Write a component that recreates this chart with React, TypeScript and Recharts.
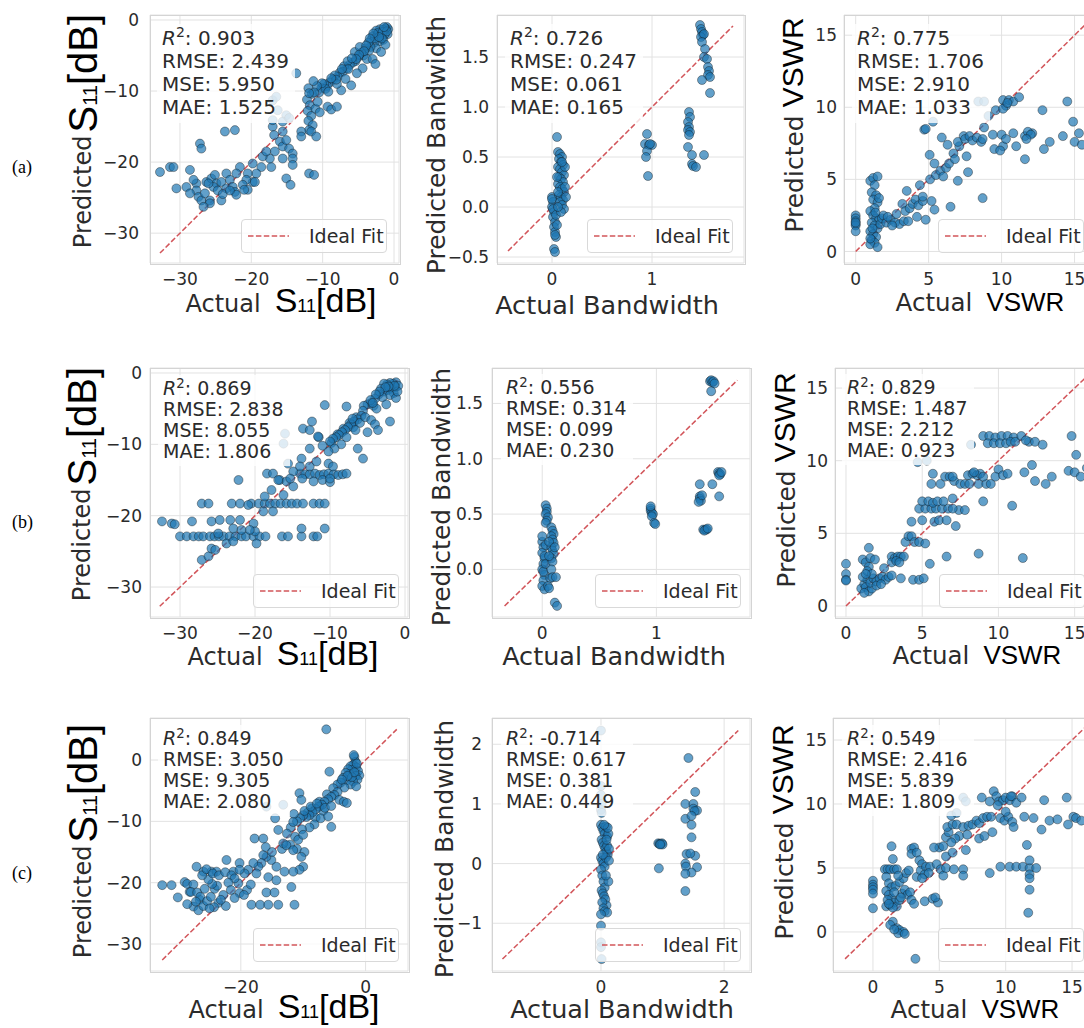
import React from 'react';
import { ScatterChart, Scatter, XAxis, YAxis, CartesianGrid, ReferenceLine } from 'recharts';

type Pt = [number, number];

// ---------- Row (a) ----------
const a1Points: Pt[] = [
  [-0.8,-1.3],[-0.9,-2.0],[-1.0,-1.0],[-1.2,-1.2],[-1.5,-1.4],[-2,-1.3],[-2.5,-1.5],[-1.3,-2],[-1.8,-2.2],[-2.3,-2],[-3,-2.3],[-1.5,-2.8],[-2,-3],[-2.8,-3.2],[-1.2,-3.5],[-2.5,-4],[-3.3,-3.8],[-1.8,-4.5],[-2.2,-1.8],[-1.6,-1.7],[-3.5,-4.3],[-4,-4],[-4.3,-5],[-3.8,-5.5],[-4.6,-4.6],[-5,-5.2],[-5.4,-5.8],[-5.8,-6],[-6.2,-6.3],[-6.6,-6.8],[-7,-6.5],[-7.2,-7.3],[-7.6,-7.4],[-7.9,-8],[-8.3,-7.8],[-8.6,-8.4],[-9,-8.8],[-9.4,-9.3],[-9.8,-9],[-10.2,-9.6],[-10.5,-10.2],[-3,-5.5],[-2.6,-6.2],[-4.4,-6.8],[-5.2,-7.5],[-6,-9.2],[-6.8,-8.3],[-7.4,-9.9],[-8,-9],[-5.5,-4.5],[-6.5,-5.8],[-3.2,-2.8],[-4.8,-3.8],[-1.0,-1.6],[-2.7,-2.6],[-1.4,-1.0],[-3.6,-3.2],
  [-1.7,-2.6],[-2.1,-2.4],[-2.9,-1.9],[-3.4,-2.6],[-3.9,-3.6],[-4.2,-4.4],[-4.9,-4.9],[-5.3,-5.5],[-5.9,-5.4],[-6.4,-6.9],[-7.3,-6.9],[-8.1,-8.4],[-8.8,-8.2],[-9.6,-9.7],[-10.1,-8.9],[-9.2,-10.1],[-10.8,-9.3],[-11.3,-8.6],
  [-12,-9.6],[-11.5,-10.4],[-12.2,-11.2],[-11.8,-12],[-12.1,-12.8],[-11.6,-13.5],[-12,-14.2],[-11.4,-14.8],[-11.9,-15.5],[-11,-12.5],[-10.7,-11.5],[-11.2,-10.2],[-10.4,-13],[-9.3,-12.2],[-8.8,-12.6],[-8,-12.2],[-11.9,-10.3],[-11.6,-15.7],[-10.9,-16.4],[-13,-15.7],[-13,-16.4],[-11.9,-21.6],[-11.2,-21.8],
  [-17,-15],[-16.8,-16.2],[-16,-17.1],[-15.6,-17.8],[-15.1,-16.9],[-14.7,-18.1],[-14.2,-18.8],[-14.2,-19.5],[-15.6,-19.5],[-16.7,-18.5],[-14.2,-20.4],[-15.1,-22.3],[-14.5,-23.2],[-17.2,-20.7],[-17.4,-19.5],[-18.4,-19.2],[-17.9,-18.5],[-18.6,-20.7],[-19.8,-20.2],[-19.3,-21.6],[-20.5,-21.6],[-19.8,-22.8],[-20.7,-22.5],[-21.2,-23.2],[-20.5,-23.9],[-23.7,-15.7],[-27.2,-17.4],[-27,-18.1],[-15.6,-15.7],[-17,-14.1],[-22.3,-15.5],
  [-32.8,-21.4],[-31.4,-20.7],[-30.9,-20.7],[-30.5,-23.7],[-28.6,-21.1],[-29.1,-23.5],[-27.7,-23],[-27.7,-24],[-27.4,-24.9],[-27,-25.4],[-26.5,-24.4],[-26.3,-22.8],[-25.6,-22.3],[-25.1,-21.8],[-24.9,-23],[-25.3,-23.5],[-24.7,-24],[-25.8,-25.4],[-25.8,-25.8],[-24.2,-22.8],[-23.5,-21.6],[-23,-22.5],[-23.5,-23.7],[-22.6,-23.5],[-22.3,-24.2],[-21.6,-20.7],[-22.1,-21.6],[-21,-23.9],[-19.5,-22.8],[-22.1,-24.6],[-24.2,-25.4],[-26.7,-26.3],[-28.6,-24.4],[-28.1,-22.5],[-26,-23],[-24,-24.5],[-23,-24],
  [-13.7,-7.5],[-17,-11.3],[-16.3,-12.7],[-15.1,-13.4],[-15.6,-14.3],[-14.7,-13.8],[-16.5,-10.8],
];
const a2Points: Pt[] = [
  [0.0,0.1],[0.01,0.05],[0.0,0.0],[0.02,-0.05],[0.01,-0.1],[0.03,-0.15],[0.02,-0.2],[0.03,-0.25],[0.04,-0.3],[0.03,-0.28],[0.02,-0.42],[0.03,-0.45],[0.0,0.08],[0.01,-0.02],[0.04,-0.08],[0.05,-0.18],
  [0.05,0.7],[0.06,0.55],[0.08,0.53],[0.1,0.5],[0.07,0.48],[0.09,0.45],[0.11,0.42],[0.06,0.4],[0.08,0.38],[0.1,0.35],[0.12,0.32],[0.07,0.3],[0.09,0.28],[0.11,0.25],[0.06,0.23],[0.08,0.2],[0.1,0.18],[0.12,0.15],[0.07,0.12],[0.09,0.1],[0.11,0.07],[0.08,0.05],[0.1,0.02],[0.12,-0.02],[0.09,-0.05],[0.06,0.15],[0.13,0.2],[0.05,0.3],[0.13,0.4],[0.1,0.45],[0.14,0.1],[0.06,0.0],
  [0.95,0.73],[0.93,0.63],[0.97,0.62],[1.0,0.62],[0.95,0.56],[0.94,0.5],[0.96,0.31],[0.98,0.63],
  [1.37,0.95],[1.38,0.9],[1.36,0.85],[1.37,0.8],[1.36,0.77],[1.38,0.75],[1.37,0.72],[1.36,0.6],[1.4,0.52],[1.4,0.43],[1.41,0.41],[1.44,0.4],[1.52,0.52],
  [1.48,1.82],[1.49,1.78],[1.5,1.75],[1.51,1.72],[1.49,1.7],[1.52,1.73],[1.5,1.65],[1.53,1.58],[1.52,1.5],[1.55,1.48],[1.56,1.4],[1.57,1.36],[1.56,1.32],[1.58,1.3],[1.5,1.27],[1.58,1.14],
];
const a3Points: Pt[] = [
  [0,2.5],[0,2.3],[0,2.1],[0,1.9],[0,1.8],[0,1.4],[0,2.0],
  [1,4.9],[1.2,5.1],[1.5,5.2],[1.3,4.6],[1.1,4.1],[1.4,3.9],[1.2,3.6],[1.5,3.4],[1.3,3.0],[1.0,2.8],[1.2,2.5],[1.4,2.3],[1.6,2.2],[1.1,2.0],[1.3,1.8],[1.5,1.6],[1.0,1.4],[1.2,1.2],[1.4,1.0],[1.1,0.8],[1.3,0.6],[1.0,0.5],[1.5,0.3],[1.7,1.9],[1.8,2.3],[1.9,2.5],[1.6,3.7],[1.0,0.9],[1.15,1.6],[1.35,2.7],
  [2.1,2.0],[2.4,2.2],[2.7,2.0],[3.0,1.9],[3.3,2.1],[2.2,2.4],[2.5,1.8],[3.6,2.1],[2.8,2.6],[3.2,3.3],[3.4,2.8],[3.7,3.0],[3.9,3.3],[3.5,4.2],[4.1,3.6],[4.3,3.2],[4.6,3.5],[4.2,2.4],[4.8,2.2],[5.2,3.5],[4.4,4.6],[4.6,3.8],
  [5.1,5.0],[5.5,5.3],[5.8,5.6],[6.0,5.2],[6.2,5.8],[5.07,6.7],[5.4,6.1],[6.4,6.1],[6.7,6.8],[5.9,7.9],[7.1,7.3],[7.4,8.0],[7.6,6.6],[7.0,4.9],[7.7,5.5],[5.4,2.9],[6.5,3.1],[8.7,3.7],[4.7,8.45],[4.8,8.5],[7.0,7.6],[7.5,7.8],[7.8,8.0],[8.0,7.7],[8.3,7.9],[8.6,7.6],[6.3,7.4],[6.8,6.4],
  [9.6,9.8],[10.1,10.5],[10.3,10.1],[10.5,10.5],[10.1,9.9],[10.8,10.4],[11.2,10.7],[10.4,10.3],
  [8.8,8.6],[8.7,7.8],[9.4,8.1],[9.5,7.1],[10.0,8.1],[10.1,7.3],[10.8,8.2],[11.0,7.3],[11.6,8.0],[11.6,6.4],[12.1,8.2],[11.8,8.3],[12.0,8.1],[11.7,7.8],[12.9,7.1],[13.3,7.6],[12.8,9.8],[14.2,8.0],[14.5,10.4],[14.9,9.0],[15.0,7.6],[15.3,8.2],[15.5,7.4],[10.3,7.8],[9.9,7.0],
  [5.3,9.0],[8.4,10.4],[8.8,10.4],[9.1,9.4],
];

// ---------- Row (b) ----------
const b1Points: Pt[] = [
  [-1.2,-1.3],[-1.6,-1.5],[-2,-1.4],[-2.4,-1.6],[-2.8,-1.5],[-1.3,-2.0],[-1.8,-2.2],[-2.3,-2.4],[-2.8,-2.6],[-3.2,-2.2],[-1.5,-2.8],[-2.0,-3.1],[-3.5,-3.0],[-3.0,-3.4],[-4.0,-3.6],[-4.5,-4.2],[-5.0,-4.4],[-4.2,-4.6],[-1.2,-3.5],[-2.5,-4.4],[-3.8,-5.0],[-5.5,-4.6],[-0.9,-1.8],[-1.0,-2.6],
  [-1.4,-1.8],[-2.2,-1.9],[-2.6,-2.0],[-3.4,-2.6],[-3.9,-3.0],[-4.6,-3.8],[-6.5,-6.2],[-7.4,-7.0],[-8.2,-7.8],[-9.0,-8.6],[-9.8,-9.8],[-6.9,-7.6],[-5.6,-5.3],
  [-5.8,-6.0],[-6.3,-6.5],[-6.8,-6.8],[-7.2,-7.2],[-7.6,-7.6],[-8,-8.0],[-8.4,-8.3],[-8.8,-8.7],[-9.2,-9.0],[-9.6,-9.2],[-10.0,-9.6],[-7.0,-6.4],[-6.0,-7.0],[-5.3,-6.2],[-4.5,-6.6],[-4.0,-7.2],[-3.6,-8.0],[-5.0,-8.3],[-6.6,-8.0],[-7.8,-9.0],[-8.5,-10.0],[-9.4,-10.6],[-10.2,-11.0],[-11.0,-10.2],[-11.5,-9.0],[-6.3,-10.6],[-4.3,-4.2],[-2.0,-6.8],[-10.7,-4.5],[-5.6,-12.0],[-12.7,-10.6],[-13.6,-7.8],[-12.7,-8.0],[-12.4,-6.8],[-11.6,-8.9],[-7.8,-4.7],
  [-14,-14.1],[-13.3,-14.2],[-12.7,-14.2],[-12,-14.1],[-11.4,-14.3],[-10.8,-14.2],[-10.2,-14.1],[-9.5,-14.2],[-8.9,-14.3],[-8.3,-14.2],[-7.8,-14.1],[-13.7,-14.8],[-12.2,-15.2],[-11.0,-15.0],[-10.0,-15.3],[-13.8,-12],[-12.7,-13.1],[-11.8,-12.4],[-10.2,-12.7],[-9.6,-13.1],[-10,-14.8],
  [-18.4,-14.1],[-17.6,-14.1],[-16.7,-15],[-15.8,-15.2],[-14.9,-13.8],[-14,-13.1],[-14.9,-15.9],[-15.3,-14.8],[-16.9,-15],
  [-27.1,-18.3],[-26.2,-18.3],[-23.1,-18.3],[-22.0,-18.3],[-20.5,-18.3],[-19.5,-18.3],[-18.7,-18.3],[-18.0,-18.3],[-17.3,-18.3],[-16.6,-18.3],[-15.8,-18.3],[-15.1,-18.3],[-14.4,-18.3],[-13.6,-18.3],[-12.2,-18.3],[-11.4,-18.3],[-10.7,-18.3],[-18.7,-17.3],[-18.9,-19.4],[-17.6,-19.4],[-16.2,-17.1],[-17.8,-16.4],[-22.2,-15.0],
  [-30,-22.9],[-29.1,-22.9],[-28.2,-22.9],[-27.5,-22.9],[-26.9,-22.9],[-26,-22.9],[-25.4,-22.9],[-24.8,-22.9],[-24.2,-22.9],[-23.4,-22.9],[-22.6,-22.9],[-21.8,-22.9],[-21.2,-22.9],[-20.2,-22.9],[-19.4,-22.9],[-18.6,-22.9],[-16.4,-22.9],[-15.6,-22.9],[-13.8,-22.9],[-12.2,-22.9],[-11.7,-22.9],
  [-32.4,-20.8],[-31.1,-21.1],[-30.7,-21.2],[-28.4,-20.8],[-25.8,-20.8],[-24.7,-20.6],[-23.3,-20.6],[-22.9,-21.8],[-22,-20.6],[-20.9,-18.5],[-20.2,-21.1],[-20,-22.2],[-20.7,-22.0],[-19.8,-23.9],[-27.1,-26.2],[-26.2,-25.7],[-25.8,-24.6],[-25.3,-24.8],[-24.9,-22.5],[-23.8,-23.9],[-22.9,-23.6],[-21.8,-22.0],[-13.8,-21.8],[-10.7,-21.8],
  [-16,-8.5],[-16.2,-9.9],[-15.6,-12.7],
];
const b2Points: Pt[] = [
  [0.0,0.25],[0.01,0.2],[0.0,0.15],[0.02,0.1],[0.01,0.05],[0.0,0.0],[0.02,-0.05],[0.01,-0.1],[0.0,-0.15],[0.02,-0.18],[0.03,0.22],[0.0,0.3],[0.02,0.12],[0.01,-0.02],[0.03,0.05],
  [0.03,0.58],[0.04,0.55],[0.04,0.52],[0.03,0.5],[0.05,0.47],[0.04,0.44],[0.03,0.42],
  [0.08,0.38],[0.09,0.35],[0.1,0.32],[0.08,0.3],[0.09,0.27],[0.1,0.24],[0.08,0.2],[0.09,0.17],[0.1,0.14],[0.08,0.1],[0.09,0.07],[0.08,0.0],[0.07,-0.08],[0.09,-0.07],[0.05,-0.15],[0.06,-0.17],[0.12,-0.07],[0.11,-0.3],[0.13,-0.33],[0.06,0.25],[0.06,0.12],[0.11,0.2],
  [0.95,0.55],[0.95,0.53],[0.96,0.51],[0.97,0.5],[0.96,0.48],[0.98,0.42],[0.99,0.41],[0.95,0.57],
  [1.38,0.77],[1.38,0.66],[1.38,0.64],[1.39,0.62],[1.37,0.61],[1.40,0.67],[1.49,0.77],[1.55,0.66],
  [1.41,0.36],[1.43,0.36],[1.44,0.36],[1.42,0.35],[1.45,0.37],
  [1.54,0.88],[1.55,0.87],[1.56,0.86],[1.55,0.85],[1.57,0.88],
  [1.47,1.7],[1.48,1.71],[1.49,1.69],[1.5,1.7],[1.51,1.68],[1.48,1.61],
];
const b3Points: Pt[] = [
  [0,2.9],[0,2.2],[0,1.8],[0,1.75],
  [1.0,1.2],[1.2,1.5],[1.4,1.8],[1.1,2.0],[1.3,1.3],[1.5,1.0],[1.7,1.2],[1.2,0.9],[1.6,1.6],[1.8,1.9],[2.0,1.7],[2.2,1.9],[2.4,2.0],[2.6,1.8],[2.8,2.0],[3.0,2.1],[1.1,3.2],[1.3,3.0],[1.5,2.7],[1.6,3.3],[1.9,3.2],[1.4,2.4],[1.5,4.0],[2.0,1.4],[2.3,1.5],[1.7,2.2],[1.3,2.2],[2.5,2.6],
  [3.0,3.4],[3.2,3.3],[3.4,3.4],[3.6,3.4],[3.8,3.4],[3.0,3.0],[3.3,3.1],[3.5,3.0],[3.9,4.4],[4.1,4.8],[4.3,4.8],[4.5,4.4],[4.8,4.4],[3.6,1.9],[4.4,1.8],[4.8,1.8],[5.1,1.9],[5.2,4.3],[4.3,5.8],
  [4.8,6.7],[5.2,6.7],[5.6,6.7],[5.9,6.7],[6.3,6.7],[6.7,6.7],[5.0,7.2],[5.4,7.2],[5.7,7.1],[6.0,7.2],[6.4,7.2],[5.8,5.8],[6.1,5.9],[6.6,5.9],[7.2,5.5],[7.4,6.6],[7.8,6.6],[7.0,6.7],[5.0,5.9],[5.6,8.4],[6.2,8.4],[7.0,7.4],
  [5.7,9.1],[6.5,8.9],[6.8,8.9],[7.1,8.6],[7.5,8.4],[7.8,8.4],[8.0,9.0],[8.3,9.1],[8.6,9.0],[8.8,9.1],[8.1,8.4],[8.7,8.4],[9.2,8.4],[9.5,8.4],[8.4,9.2],[9.0,8.9],[9.0,7.2],[7.0,8.9],
  [9.0,11.7],[9.4,11.7],[9.8,11.6],[10.2,11.7],[10.6,11.7],[11.0,11.6],[11.5,11.7],[12.0,11.3],[12.4,11.3],[9.3,11.2],[9.7,11.2],[10.1,11.2],[10.5,11.2],[10.8,11.3],[11.8,11.4],[12.9,11.1],[11.1,11.3],
  [10.0,9.4],[9.8,8.9],[10.3,9.0],[10.6,9.1],[10.9,6.9],[11.7,9.2],[12.2,9.7],[12.4,8.6],[13.1,8.4],[13.5,8.9],[14.6,9.3],[15.0,9.2],[15.4,8.9],[15.8,9.5],[14.8,11.7],[15.1,10.4],
  [5.5,2.9],[6.6,3.4],[8.7,3.6],[11.6,3.3],
  [4.7,9.9],[8.2,11.1],[5.3,10.0],
];

// ---------- Row (c) ----------
const c1Points: Pt[] = [
  [-6.3,5.0],
  [-1.8,0.5],[-1.6,-0.3],[-2.0,-0.8],[-1.5,-1.2],[-2.4,-1.0],[-1.2,-1.8],[-2.2,-1.6],[-2.8,-1.5],[-1.0,-2.5],[-1.6,-2.6],[-2.6,-2.3],[-3.2,-2.1],[-1.3,-3.2],[-2.0,-3.5],[-3.0,-3.3],[-3.6,-2.9],[-4.0,-3.7],[-2.4,-4.0],[-1.5,-4.3],[-3.4,-4.5],[-4.5,-4.0],[-5.8,-1.9],[-1.9,0.8],
  [-1.4,-0.6],[-2.2,-2.8],[-1.8,-2.0],[-2.9,-2.6],[-3.8,-3.2],[-5.2,-4.6],[-6.2,-5.6],[-7.4,-6.8],[-8.6,-7.9],[-9.3,-8.6],[-6.8,-8.3],[-8.0,-9.4],
  [-4.5,-5.2],[-5.0,-5.7],[-5.5,-6.0],[-6.0,-6.4],[-6.6,-6.8],[-7.0,-7.3],[-7.5,-7.6],[-8.0,-8.0],[-8.5,-8.5],[-9.0,-9.0],[-9.5,-9.3],[-10.0,-9.0],[-10.5,-9.5],[-9.8,-8.3],[-8.8,-7.6],[-7.8,-7.1],[-6.5,-7.8],[-5.5,-7.5],[-4.2,-6.5],[-3.5,-6.8],[-3.0,-7.0],[-7.2,-9.5],[-8.2,-10.5],[-9.0,-11.0],[-10.2,-11.3],[-6.0,-9.2],[-5.5,-10.9],[-11.0,-10.0],[-11.5,-8.8],[-10.6,-5.4],[-10.3,-6.5],
  [-12.0,-11.0],[-12.6,-12.0],[-11.3,-12.5],[-10.8,-13.0],[-12.1,-13.8],[-11.0,-14.5],[-10.0,-12.2],[-13.4,-14.5],[-9.8,-15.0],[-14,-11.4],[-11.6,-10.1],
  [-17.8,-12.8],[-16.4,-12.8],[-13.2,-13.6],[-12.7,-13.9],[-11.6,-14.7],[-10.3,-15.8],[-10.0,-17.4],[-10.6,-17.9],[-11.6,-18.2],[-13,-18.2],[-14.3,-17.4],[-15.1,-16.3],[-15.9,-15.8],[-16.4,-15.5],[-16.7,-16.8],[-17.2,-17.4],[-17.5,-18.5],[-18,-16.8],[-18.8,-17.9],[-20.2,-16.8],[-19.4,-18.5],[-15.6,-19.1],[-14.3,-19.6],[-16.0,-14.2],[-15.0,-15.0],
  [-32.6,-20.4],[-31.1,-20.4],[-30.1,-22.4],[-29,-19.9],[-28.2,-21.5],[-27.1,-17.4],[-27.6,-23.9],[-26.6,-22.8],[-26,-18.2],[-24.7,-18.2],[-23.9,-18.2],[-22.3,-16.3],[-21.2,-18.2],[-20.2,-17.9],[-20.4,-20.1],[-20.2,-21.7],[-18.3,-23.6],[-16.9,-23.6],[-15.6,-23.6],[-14,-23.6],[-11.4,-23.6],[-15.9,-21.6],[-14.6,-21.6],[-11.9,-20.7],
  [-28.6,-20.2],[-27.6,-20.3],[-28.0,-21.5],[-27.0,-21.6],[-26.5,-22.3],[-27.2,-23.1],[-26.8,-24.5],[-26.0,-23.8],[-25.4,-23.0],[-24.8,-22.3],[-24.2,-21.0],[-23.8,-20.5],[-24.6,-20.2],[-25.2,-19.5],[-26.2,-18.8],[-25.5,-17.8],[-24.5,-18.5],[-23.5,-18.8],[-22.5,-18.3],[-21.5,-18.8],[-21.0,-19.3],[-22.0,-20.0],[-21.6,-21.2],[-22.8,-22.0],[-23.6,-23.3],[-24.3,-24.0],[-22.4,-23.8],[-21.0,-22.5],[-19.0,-21.2],[-18.4,-20.3],[-23.2,-22.8],[-25.8,-21.0],[-28.6,-23.5],[-19.5,-22.0],[-25.0,-24.2],
  [-15.9,-7.6],[-13.2,-7.3],[-14.5,-9.5],
];
const c2Points: Pt[] = [
  [0.0,2.23],[0.0,1.3],[0.0,1.15],[0.01,1.0],[0.0,0.9],[0.01,0.85],[0.0,-1.32],[0.0,-1.4],[0.01,-1.6],[0.0,-1.04],
  [0.0,0.65],[0.02,0.6],[0.04,0.55],[0.06,0.5],[0.08,0.62],[0.1,0.45],[0.01,0.4],[0.03,0.35],[0.05,0.3],[0.07,0.25],[0.09,0.2],[0.11,0.15],[0.0,0.1],[0.02,0.05],[0.04,0.0],[0.06,-0.05],[0.08,0.1],[0.1,0.3],[0.12,0.5],[0.13,0.25],[0.0,-0.1],[0.02,-0.2],[0.04,-0.3],[0.06,-0.4],[0.01,-0.45],[0.03,-0.5],[0.05,-0.55],[0.07,-0.6],[0.09,-0.7],[0.02,-0.65],[0.04,-0.75],[0.06,-0.8],[0.1,-0.82],[0.0,-0.85],[0.12,-0.3],[0.08,-0.2],[0.13,0.05],[0.11,0.6],[0.05,0.65],[0.09,0.4],[0.03,0.15],
  [0.93,0.34],[0.95,0.33],[0.97,0.33],[0.99,0.34],[1.0,0.32],[0.96,0.32],[0.94,-0.08],
  [1.42,1.77],[1.37,1.0],[1.5,1.0],[1.5,0.92],[1.56,0.89],[1.52,0.88],[1.37,0.75],[1.47,0.65],[1.47,0.44],[1.53,1.2],[1.39,0.16],[1.53,0.13],[1.45,0.17],[1.37,0.0],[1.38,-0.05],[1.56,-0.06],[1.47,-0.15],[1.37,-0.17],[1.37,-0.46],[1.47,0.8],
];
const c3Points: Pt[] = [
  [0,4.0],[0,3.7],[0,3.5],[0,3.3],[0,3.0],[0,1.85],
  [0.9,4.9],[1.1,4.9],[1.3,4.9],[1.6,4.9],[1.8,4.9],[1.0,4.3],[1.2,3.8],[1.4,3.5],[1.0,3.2],[1.2,2.9],[1.4,2.6],[1.6,2.3],[1.0,2.0],[1.3,2.1],[1.8,2.0],[2.0,2.5],[2.2,3.0],[2.4,3.3],[2.6,2.9],[2.8,3.1],[1.7,3.6],[2.0,3.9],[2.3,4.2],[2.5,4.6],[2.7,4.8],[1.5,5.7],[1.4,6.7],[1.9,4.4],[2.9,2.5],[3.1,2.2],[3.3,4.3],[1.1,2.5],[1.5,1.9],[1.2,2.2],[2.1,2.7],[1.6,3.1],
  [1.5,0.8],[1.3,0.55],[1.8,0.3],[2.0,0.15],[2.3,0.0],[1.9,-0.1],[1.6,0.2],[2.4,-0.15],[3.2,-2.1],
  [2.9,6.5],[3.1,6.6],[2.9,6.1],[3.3,6.2],[3.5,5.6],[3.7,5.3],[3.6,4.8],[4.0,5.1],[4.3,5.1],[3.9,4.5],[4.2,4.6],[4.8,5.3],[5.0,6.6],[4.6,6.6],[3.7,4.2],[3.9,2.4],[4.5,2.6],[4.9,2.3],[4.7,2.7],[5.1,4.9],[5.3,4.4],[5.5,5.0],[6.1,4.9],[6.8,4.9],[6.8,4.4],[5.5,5.9],[6.0,6.2],[5.3,6.7],
  [5.5,7.4],[5.7,7.8],[5.6,8.2],[6.0,8.4],[6.3,8.4],[6.5,7.5],[6.8,8.2],[7.2,8.3],[7.5,8.4],[7.8,8.7],[8.0,8.5],[8.3,8.9],[8.6,9.0],[8.9,9.0],[7.1,7.6],[7.0,6.4],[8.0,7.3],[8.4,7.5],[9.0,7.8],[6.2,7.3],[5.9,7.0],
  [8.2,10.5],[8.8,10.2],[9.1,11.0],[9.3,10.6],[9.5,10.2],[9.8,10.3],[10.0,10.5],[10.3,10.3],[10.5,10.6],[10.8,10.1],[11.2,10.5],[9.4,9.9],[10.4,10.6],
  [9.6,8.9],[9.9,8.7],[10.2,9.0],[10.5,8.6],[10.6,8.2],[11.4,9.0],[12.1,8.9],[12.7,8.0],[12.9,10.3],[13.3,8.7],[13.9,8.8],[14.6,10.5],[14.7,8.4],[15.1,9.0],[15.3,8.9],[15.7,8.7],[11.6,6.8],[10.0,9.4],
  [8.8,4.6],[9.6,5.1],[10.3,5.1],[10.8,5.1],[11.3,5.1],[11.8,5.0],[12.3,5.0],[11.8,5.6],[11.8,4.5],[11.8,4.2],[11.8,3.3],[11.7,1.5],
  [6.8,10.5],[5.9,9.1],[6.3,9.3],[7.0,10.2],
];

// ---------- ticks, stats, labels ----------
const s11XTicksAB = [-30, -20, -10, 0];
const s11XTicksC = [-20, 0];
const s11YTicks = [-30, -20, -10, 0];
const bwXTicksAB = [0, 1];
const bwYTicksA = [-0.5, 0, 0.5, 1, 1.5];
const bwYTicksB = [0, 0.5, 1, 1.5];
const bwTicksC = [-1, 0, 1, 2];
const bwXTicksC = [0, 2];
const vswrTicks = [0, 5, 10, 15];

const statNames = ['RMSE', 'MSE', 'MAE'];
const a1Stats = ['0.903', '2.439', '5.950', '1.525'];
const a2Stats = ['0.726', '0.247', '0.061', '0.165'];
const a3Stats = ['0.775', '1.706', '2.910', '1.033'];
const b1Stats = ['0.869', '2.838', '8.055', '1.806'];
const b2Stats = ['0.556', '0.314', '0.099', '0.230'];
const b3Stats = ['0.829', '1.487', '2.212', '0.923'];
const c1Stats = ['0.849', '3.050', '9.305', '2.080'];
const c2Stats = ['-0.714', '0.617', '0.381', '0.449'];
const c3Stats = ['0.549', '2.416', '5.839', '1.809'];

const rowLabels = ['(a)', '(b)', '(c)'];
const legendLabel = 'Ideal Fit';

type Kind = 's11' | 'bw' | 'vswr';

interface PanelCfg {
  left: number; top: number; w: number; h: number;
  xd: [number, number]; yd: [number, number];
  xt: number[]; yt: number[]; yDec: number;
  pts: Pt[]; line: [number, number]; stats: string[];
  font: number; lh: number; tx: number; tb: number;
  kind: Kind; yl: [number, number]; xl: [number, number];
  yGap: number; lgRight: number; lgBottom: number;
}

const panels: PanelCfg[] = [
  { left: 150, top: 15, w: 249, h: 248, xd: [-34.2, 0.7], yd: [-34.2, 0.7], xt: s11XTicksAB, yt: s11YTicks, yDec: 0, pts: a1Points, line: [-32.8, -1.1], stats: a1Stats, font: 20, lh: 23, tx: 12, tb: 30, kind: 's11', yl: [91, 131], xl: [281, 312], yGap: 11, lgRight: 12, lgBottom: 10 },
  { left: 497, top: 15, w: 247, h: 248, xd: [-0.55, 1.92], yd: [-0.56, 1.92], xt: bwXTicksAB, yt: bwYTicksA, yDec: 1, pts: a2Points, line: [-0.44, 1.81], stats: a2Stats, font: 20, lh: 23, tx: 13, tb: 30, kind: 'bw', yl: [445, 145], xl: [607, 314], yGap: 8, lgRight: 11, lgBottom: 10 },
  { left: 844, top: 15, w: 251, h: 248, xd: [-0.8, 16.4], yd: [-0.8, 16.4], xt: vswrTicks, yt: vswrTicks, yDec: 0, pts: a3Points, line: [0, 16.3], stats: a3Stats, font: 20, lh: 23, tx: 13, tb: 30, kind: 'vswr', yl: [803, 125], xl: [980, 311], yGap: 7, lgRight: 11, lgBottom: 10 },
  { left: 150, top: 368, w: 258, h: 249, xd: [-34, 0.4], yd: [-34.2, 0.7], xt: s11XTicksAB, yt: s11YTicks, yDec: 0, pts: b1Points, line: [-32.7, -1.0], stats: b1Stats, font: 19, lh: 21, tx: 13, tb: 27, kind: 's11', yl: [90, 484], xl: [283, 665], yGap: 8, lgRight: 9, lgBottom: 9 },
  { left: 492, top: 368, w: 258, h: 249, xd: [-0.44, 1.82], yd: [-0.43, 1.82], xt: bwXTicksAB, yt: bwYTicksB, yDec: 1, pts: b2Points, line: [-0.33, 1.71], stats: b2Stats, font: 19, lh: 21, tx: 14, tb: 26, kind: 'bw', yl: [450, 497], xl: [614, 665], yGap: 9, lgRight: 9, lgBottom: 9 },
  { left: 835, top: 368, w: 261, h: 249, xd: [-0.72, 16.4], yd: [-0.76, 16.38], xt: vswrTicks, yt: vswrTicks, yDec: 0, pts: b3Points, line: [0, 16.3], stats: b3Stats, font: 19, lh: 21, tx: 12, tb: 26, kind: 'vswr', yl: [795, 480], xl: [977, 664], yGap: 7, lgRight: 11, lgBottom: 9 },
  { left: 150, top: 718, w: 258, h: 253, xd: [-34.56, 6.8], yd: [-34.4, 6.85], xt: s11XTicksC, yt: s11YTicks, yDec: 0, pts: c1Points, line: [-32.6, 5.0], stats: c1Stats, font: 19, lh: 21, tx: 13, tb: 27, kind: 's11', yl: [91, 841], xl: [284, 1018], yGap: 8, lgRight: 9, lgBottom: 9 },
  { left: 492, top: 718, w: 258, h: 253, xd: [-1.77, 2.42], yd: [-1.8, 2.44], xt: bwXTicksC, yt: bwTicksC, yDec: 0, pts: c2Points, line: [-1.6, 2.23], stats: c2Stats, font: 19, lh: 21, tx: 14, tb: 27, kind: 'bw', yl: [453, 849], xl: [622, 1018], yGap: 10, lgRight: 9, lgBottom: 9 },
  { left: 833, top: 718, w: 262, h: 253, xd: [-3.01, 16.73], yd: [-3.05, 16.72], xt: vswrTicks, yt: vswrTicks, yDec: 0, pts: c3Points, line: [-2.1, 16.3], stats: c3Stats, font: 19, lh: 21, tx: 14, tb: 27, kind: 'vswr', yl: [793, 832], xl: [975, 1018], yGap: 6, lgRight: 11, lgBottom: 9 },
];

const MAIN_FONT = 'DejaVu Sans';
const BIG_FONT = 'Liberation Sans';
const TXT = '#2b2b2b';
const DOT = '#1f77b4';
const RED = '#d2555a';

const fmt = (dec: number) => (v: number) => v.toFixed(dec).replace('-', '\u2212');

const Dot = (p: any) => (
  <circle cx={p.cx} cy={p.cy} r={4.5} fill={DOT} fillOpacity={0.7} stroke="#111" strokeOpacity={0.65} strokeWidth={0.6} />
);

const YW = 80, XH = 40, MT = 10, MR = 10;

function Panel({ c }: { c: PanelCfg }) {
  const data = c.pts.map(([x, y]) => ({ x, y }));
  const tickStyle = { fill: TXT, fontSize: 17, fontFamily: MAIN_FONT };
  return (
    <div style={{ position: 'absolute', left: c.left - YW, top: c.top - MT }}>
      <ScatterChart width={YW + c.w + MR} height={MT + c.h + XH} margin={{ top: MT, right: MR, bottom: 0, left: 0 }}>
        <CartesianGrid stroke="#e2e2e2" strokeWidth={1} />
        <XAxis type="number" dataKey="x" domain={c.xd} ticks={c.xt} interval={0} allowDataOverflow
          tickLine={false} axisLine={false} tickSize={0} tickMargin={10} height={XH}
          tick={tickStyle} tickFormatter={fmt(0)} />
        <YAxis type="number" dataKey="y" domain={c.yd} ticks={c.yt} interval={0} allowDataOverflow
          tickLine={false} axisLine={false} tickSize={0} tickMargin={c.yGap} width={YW}
          tick={tickStyle} tickFormatter={fmt(c.yDec)} />
        <Scatter data={data} isAnimationActive={false} shape={Dot} />
        <ReferenceLine segment={[{ x: c.line[0], y: c.line[0] }, { x: c.line[1], y: c.line[1] }]}
          stroke={RED} strokeWidth={1.5} strokeDasharray="5.5 2.4" ifOverflow="hidden" />
      </ScatterChart>
    </div>
  );
}

function Overlay({ c }: { c: PanelCfg }) {
  const base = (c.lh - 1.164 * c.font) / 2 + 0.928 * c.font;
  const padT = 3;
  return (
    <>
      <div style={{ position: 'absolute', left: c.left - 0.5, top: c.top - 0.5, width: c.w, height: c.h, border: '1.2px solid #d4d4d4', pointerEvents: 'none' }} />
      <div style={{ position: 'absolute', left: c.left + c.tx - 5, top: c.top + c.tb - base - padT, padding: `${padT}px 6px 4px 5px`, background: 'rgba(255,255,255,0.8)', fontFamily: MAIN_FONT, fontSize: c.font, lineHeight: `${c.lh}px`, color: TXT, whiteSpace: 'pre' }}>
        <div><i>R</i><span style={{ fontSize: '0.7em', position: 'relative', top: '-0.55em', lineHeight: 0 }}>2</span>: {c.stats[0]}</div>
        {statNames.map((n, i) => <div key={n}>{n}: {c.stats[i + 1]}</div>)}
      </div>
      <div style={{ position: 'absolute', left: c.left + c.w - c.lgRight - 146, top: c.top + c.h - c.lgBottom - 34, width: 146, height: 34, boxSizing: 'border-box', border: '1px solid #d9d9d9', borderRadius: 4, background: 'rgba(255,255,255,0.8)', display: 'flex', alignItems: 'center' }}>
        <svg width={48} height={4} style={{ marginLeft: 6, marginRight: 13 }}>
          <line x1={0} y1={2} x2={41} y2={2} stroke={RED} strokeWidth={1.5} strokeDasharray="5.5 2.4" />
        </svg>
        <span style={{ fontFamily: MAIN_FONT, fontSize: 19, color: TXT }}>{legendLabel}</span>
      </div>
    </>
  );
}

function YLabel({ c }: { c: PanelCfg }) {
  const [x, y] = c.yl;
  return (
    <text transform={`translate(${x},${y}) rotate(-90)`} textAnchor="middle">
      {c.kind === 's11' && (<>
        <tspan fontFamily={MAIN_FONT} fontSize={24} fill={TXT}>Predicted</tspan>
        <tspan dx={3} dy={6} fontFamily={BIG_FONT} fontSize={40} fill="#000">S</tspan>
        <tspan fontFamily={BIG_FONT} fontSize={20} fill="#000">11</tspan>
        <tspan fontFamily={BIG_FONT} fontSize={40} fill="#000">[dB]</tspan>
      </>)}
      {c.kind === 'bw' && <tspan fontFamily={MAIN_FONT} fontSize={25} fill={TXT}>Predicted Bandwidth</tspan>}
      {c.kind === 'vswr' && (<>
        <tspan fontFamily={MAIN_FONT} fontSize={25} fill={TXT}>Predicted</tspan>
        <tspan dx={8} fontFamily={BIG_FONT} fontSize={30} fill="#000">VSWR</tspan>
      </>)}
    </text>
  );
}

function XLabel({ c }: { c: PanelCfg }) {
  const [x, y] = c.xl;
  return (
    <text x={x} y={y} textAnchor="middle">
      {c.kind === 's11' && (<>
        <tspan fontFamily={MAIN_FONT} fontSize={24} fill={TXT}>Actual</tspan>
        <tspan dx={14} fontFamily={BIG_FONT} fontSize={34} fill="#000">S</tspan>
        <tspan fontFamily={BIG_FONT} fontSize={18} fill="#000">11</tspan>
        <tspan fontFamily={BIG_FONT} fontSize={34} fill="#000">[dB]</tspan>
      </>)}
      {c.kind === 'bw' && <tspan fontFamily={MAIN_FONT} fontSize={25.5} fill={TXT}>Actual Bandwidth</tspan>}
      {c.kind === 'vswr' && (<>
        <tspan fontFamily={MAIN_FONT} fontSize={24.5} fill={TXT}>Actual</tspan>
        <tspan dx={14} fontFamily={BIG_FONT} fontSize={26} fill="#000">VSWR</tspan>
      </>)}
    </text>
  );
}

const rowLabelY = [173, 528, 879];

export default function App() {
  return (
    <div style={{ position: 'absolute', left: 0, top: 0, width: 1084, height: 1028, overflow: 'hidden', background: '#fff' }}>
      {panels.map((c, i) => <Panel key={'p' + i} c={c} />)}
      {panels.map((c, i) => <Overlay key={'o' + i} c={c} />)}
      <svg width={1084} height={1028} style={{ position: 'absolute', left: 0, top: 0, pointerEvents: 'none' }}>
        {panels.map((c, i) => <YLabel key={'y' + i} c={c} />)}
        {panels.map((c, i) => <XLabel key={'x' + i} c={c} />)}
        {rowLabels.map((t, i) => (
          <text key={t} x={12} y={rowLabelY[i]} fontFamily="Liberation Serif" fontSize={18} fill="#000">{t}</text>
        ))}
      </svg>
    </div>
  );
}
